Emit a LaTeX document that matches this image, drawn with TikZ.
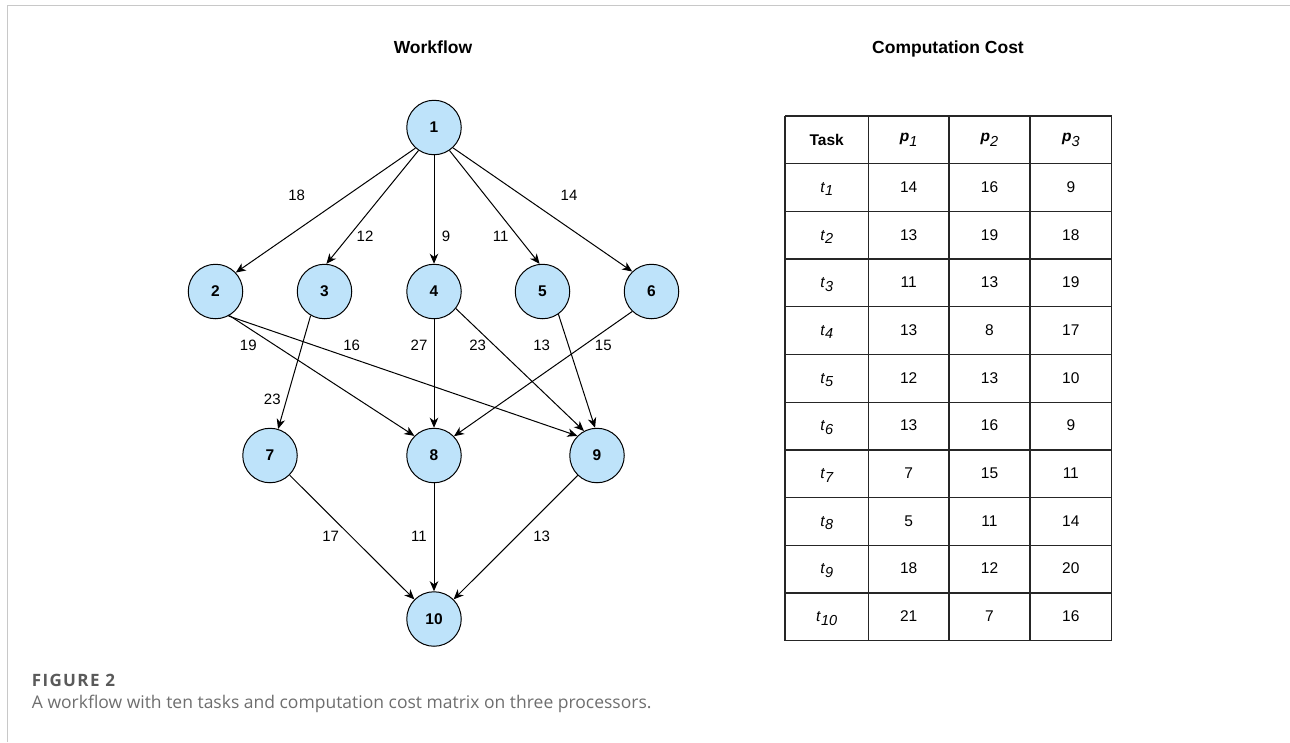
\documentclass[tikz,border=0pt]{standalone}
\usepackage{fontspec}
\setmainfont{Liberation Sans}
\newfontfamily\capfont{Open Sans}
\newfontfamily\capfontwide[LetterSpace=8]{Open Sans}
\usetikzlibrary{arrows.meta}
\definecolor{taskfill}{HTML}{BEE3FA}
\definecolor{framegray}{HTML}{C8C8C8}
\definecolor{capgray}{HTML}{5A5A5A}
\definecolor{captext}{HTML}{6E6E6E}
% lowered italic index, as in t_1 and p_1
\newcommand{\lowidx}[2]{\raisebox{-#1}{\fontsize{14.5}{14.5}\selectfont\itshape #2}}

\begin{document}
\begin{tikzpicture}[x=1pt,y=-1pt,
  task/.style={circle,draw,fill=taskfill,line width=1pt,minimum size=54.5pt,inner sep=0pt,
    font=\fontsize{15.5}{15.5}\selectfont\bfseries},
  flow/.style={line width=1pt,-{Stealth[length=10pt,width=8.5pt,inset=3pt]}},
  wlabel/.style={font=\fontsize{15}{15}\selectfont,inner sep=0pt},
  title/.style={font=\fontsize{17.5}{17.5}\selectfont\bfseries,inner sep=0pt,anchor=base},
  cell/.style={font=\fontsize{15.5}{15.5}\selectfont,inner sep=0pt,anchor=base},
  grid/.style={line width=1.3pt,black!85}
]
\useasboundingbox (0,0) rectangle (1290,742);

% page frame
\draw[framegray,line width=1.5pt] (7.5,742) -- (7.5,5.5) -- (1290,5.5);

% titles
\node[title] (wtitle) at (433,53.3) {Workflow};
\node[title] (ctitle) at (948,53.3) {Computation Cost};

% workflow tasks
\node[task] (n1) at (434,127.5) {1};
\node[task] (n2) at (215.5,291.5) {2};
\node[task] (n3) at (324.5,291.5) {3};
\node[task] (n4) at (434,291.5) {4};
\node[task] (n5) at (542.5,291.5) {5};
\node[task] (n6) at (651.5,291.5) {6};
\node[task] (n7) at (270,455.5) {7};
\node[task] (n8) at (434,455.5) {8};
\node[task] (n9) at (597,455.5) {9};
\node[task] (n10) at (434,619) {10};

% dependencies
\draw[flow] (n1.228) -- (n2.43);
\draw[flow] (n1.236) -- (n3.86);
\draw[flow] (n1.270) -- (n4.90);
\draw[flow] (n1.304) -- (n5.96);
\draw[flow] (n1.313) -- (n6.134);
\draw[flow] (n2.300) -- (n8.135);
\draw[flow] (n2.298) -- (n9.135);
\draw[flow] (n3.240) -- (n7.73);
\draw[flow] (n4.270) -- (n8.90);
\draw[flow] (n4.322) -- (n9.118);
\draw[flow] (n5.305) -- (n9.94);
\draw[flow] (n6.226) -- (n8.44);
\draw[flow] (n7.315) -- (n10.135);
\draw[flow] (n8.270) -- (n10.90);
\draw[flow] (n9.226) -- (n10.45);

% communication costs
\node[wlabel] (w12) at (296.7,195.7) {18};
\node[wlabel] (w16) at (569,195.7) {14};
\node[wlabel] (w13) at (365,236.7) {12};
\node[wlabel] (w14) at (446,236.7) {9};
\node[wlabel] (w15) at (500.7,236.7) {11};
\node[wlabel] (w28) at (248.3,345) {19};
\node[wlabel] (w29) at (351.7,345) {16};
\node[wlabel] (w48) at (419,345) {27};
\node[wlabel] (w49) at (477.7,345) {23};
\node[wlabel] (w59) at (541.7,345) {13};
\node[wlabel] (w68) at (603.3,345) {15};
\node[wlabel] (w37) at (272.3,399.3) {23};
\node[wlabel] (w710) at (330.7,536) {17};
\node[wlabel] (w810) at (419,536) {11};
\node[wlabel] (w910) at (541.7,536) {13};

% cost table grid
\foreach \k in {0,...,11}
  \draw[grid] (785,116+47.7*\k) -- (1111.7,116+47.7*\k);
\foreach \x in {785,868.3,949,1030,1111.7}
  \draw[grid] (\x,116) -- (\x,640.7);

% header row
\node[cell,font=\fontsize{15.5}{15.5}\selectfont\bfseries] (hd0) at (826.7,145.5) {Task};
\foreach \x/\i in {908.7/1,989.5/2,1070.8/3}
  \node[cell] (hd\i) at (\x,141) {{\bfseries\itshape p}\lowidx{5pt}{\i}};

% cost rows
\foreach \a/\b/\c [count=\k] in {14/16/9,13/19/18,11/13/19,13/8/17,12/13/10,13/16/9,7/15/11,5/11/14,18/12/20,21/7/16}{
  \node[cell] (tk\k) at (826.7,144.6+47.7*\k) {\textit{t}\lowidx{3.5pt}{\k}};
  \node[cell] (pa\k) at (908.7,144.6+47.7*\k) {\a};
  \node[cell] (pb\k) at (989.5,144.6+47.7*\k) {\b};
  \node[cell] (pc\k) at (1070.8,144.6+47.7*\k) {\c};
}

% caption
\node[anchor=base west,inner sep=0pt,text=capgray,font=\capfontwide\bfseries\fontsize{17}{17}\selectfont] (capnum) at (31.7,686) {FIGURE 2};
\node[anchor=base west,inner sep=0pt,text=captext,font=\capfont\fontsize{17.5}{17.5}\selectfont] (captxt) at (31.7,708) {A workflow with ten tasks and computation cost matrix on three processors.};
\end{tikzpicture}
\end{document}
